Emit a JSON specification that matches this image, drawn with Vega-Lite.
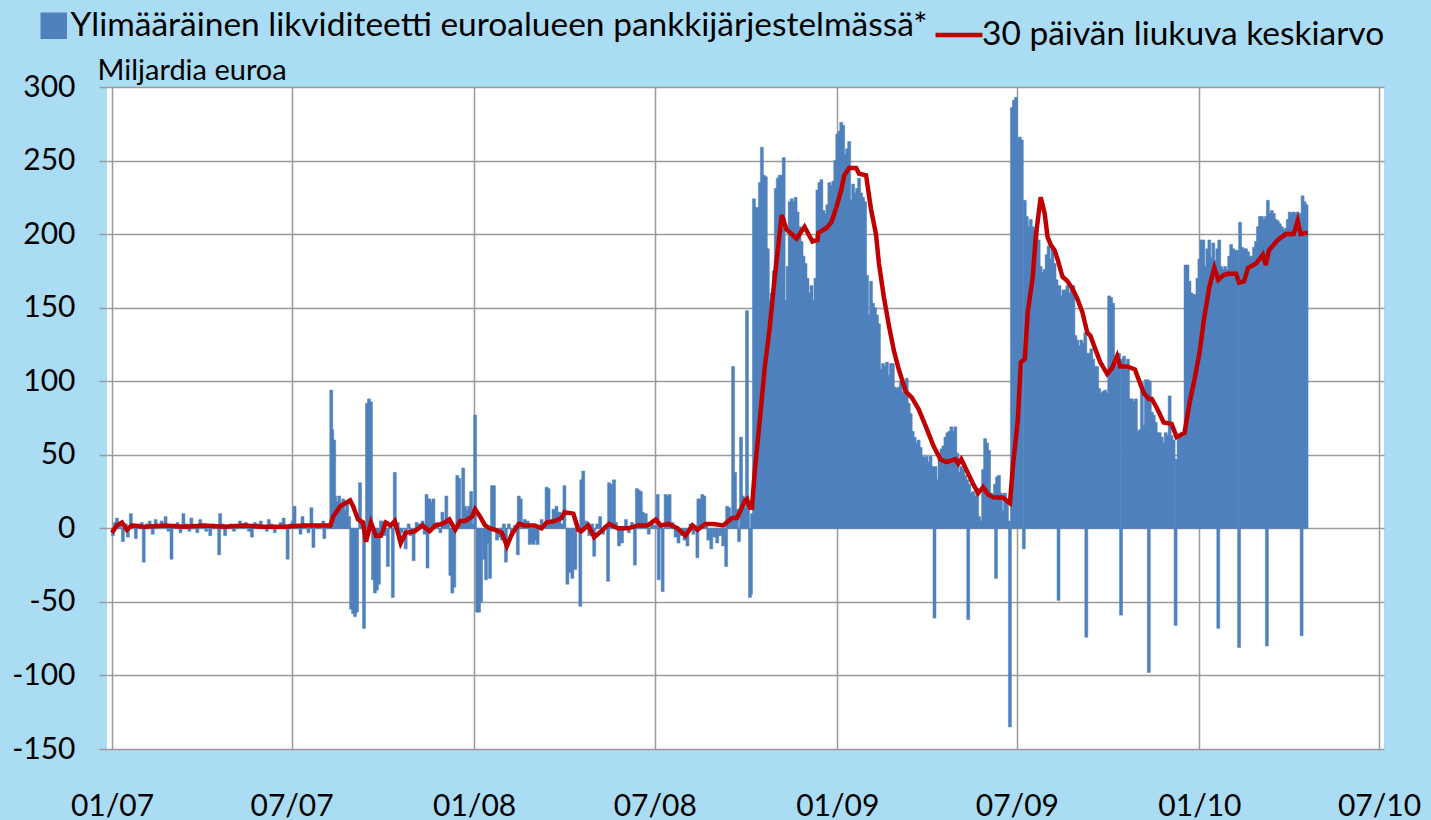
{
"$schema": "https://vega.github.io/schema/vega-lite/v6.json",
"width": 1277, "height": 662,
"autosize": {"type": "none"},
"padding": {"left": 107, "top": 87, "right": 47, "bottom": 71},
"background": "#aadcf4",
"config": {"font": "Lato", "view": {"fill": "#ffffff", "stroke": null}},
"datasets": {
"bars": [
{"d":"2007-01-02","v":-5},{"d":"2007-01-04","v":4},{"d":"2007-01-06","v":7},{"d":"2007-01-09","v":2},{"d":"2007-01-12","v":-9},{"d":"2007-01-15","v":3},{"d":"2007-01-17","v":-6},{"d":"2007-01-20","v":10},{"d":"2007-01-23","v":2},{"d":"2007-01-25","v":-7},{"d":"2007-01-28","v":3},{"d":"2007-01-31","v":4},
{"d":"2007-02-02","v":-23},{"d":"2007-02-05","v":3},{"d":"2007-02-08","v":5},{"d":"2007-02-11","v":-4},{"d":"2007-02-14","v":6},{"d":"2007-02-17","v":2},{"d":"2007-02-20","v":5},{"d":"2007-02-24","v":8},{"d":"2007-02-27","v":-2},
{"d":"2007-03-02","v":-21},{"d":"2007-03-05","v":2},{"d":"2007-03-08","v":4},{"d":"2007-03-11","v":-3},{"d":"2007-03-14","v":10},{"d":"2007-03-17","v":3},{"d":"2007-03-20","v":-2},{"d":"2007-03-22","v":7},{"d":"2007-03-25","v":2},{"d":"2007-03-28","v":-3},{"d":"2007-03-31","v":6},
{"d":"2007-04-03","v":3},{"d":"2007-04-06","v":-2},{"d":"2007-04-10","v":-5},{"d":"2007-04-13","v":3},{"d":"2007-04-16","v":2},{"d":"2007-04-19","v":-18},{"d":"2007-04-20","v":10},{"d":"2007-04-23","v":3},{"d":"2007-04-25","v":-5},{"d":"2007-04-28","v":2},
{"d":"2007-05-01","v":3},{"d":"2007-05-04","v":-2},{"d":"2007-05-07","v":2},{"d":"2007-05-10","v":5},{"d":"2007-05-13","v":3},{"d":"2007-05-16","v":4},{"d":"2007-05-19","v":-2},{"d":"2007-05-22","v":-6},{"d":"2007-05-25","v":4},{"d":"2007-05-28","v":3},{"d":"2007-05-31","v":5},
{"d":"2007-06-03","v":2},{"d":"2007-06-06","v":-2},{"d":"2007-06-08","v":6},{"d":"2007-06-11","v":3},{"d":"2007-06-14","v":-3},{"d":"2007-06-17","v":2},{"d":"2007-06-20","v":4},{"d":"2007-06-23","v":7},{"d":"2007-06-25","v":2},{"d":"2007-06-27","v":-21},{"d":"2007-06-30","v":3},
{"d":"2007-07-02","v":5},{"d":"2007-07-04","v":15},{"d":"2007-07-07","v":2},{"d":"2007-07-10","v":-4},{"d":"2007-07-12","v":8},{"d":"2007-07-15","v":3},{"d":"2007-07-18","v":-3},{"d":"2007-07-21","v":14},{"d":"2007-07-23","v":-13},{"d":"2007-07-26","v":3},{"d":"2007-07-29","v":2},
{"d":"2007-08-02","v":5},{"d":"2007-08-03","v":-7},{"d":"2007-08-06","v":2},{"d":"2007-08-08","v":3},{"d":"2007-08-10","v":94},{"d":"2007-08-11","v":67},{"d":"2007-08-13","v":60},{"d":"2007-08-14","v":22},{"d":"2007-08-16","v":18},{"d":"2007-08-18","v":22},{"d":"2007-08-20","v":15},{"d":"2007-08-22","v":20},{"d":"2007-08-24","v":12},{"d":"2007-08-26","v":18},{"d":"2007-08-28","v":8},{"d":"2007-08-30","v":-55},
{"d":"2007-09-01","v":-58},{"d":"2007-09-03","v":-60},{"d":"2007-09-05","v":-57},{"d":"2007-09-08","v":31},{"d":"2007-09-10","v":4},{"d":"2007-09-12","v":-68},{"d":"2007-09-15","v":85},{"d":"2007-09-17","v":88},{"d":"2007-09-19","v":86},{"d":"2007-09-21","v":-35},{"d":"2007-09-23","v":-44},{"d":"2007-09-25","v":-42},{"d":"2007-09-27","v":-38},{"d":"2007-09-29","v":5},
{"d":"2007-10-01","v":5},{"d":"2007-10-03","v":-5},{"d":"2007-10-06","v":-26},{"d":"2007-10-08","v":3},{"d":"2007-10-11","v":-47},{"d":"2007-10-13","v":38},{"d":"2007-10-16","v":4},{"d":"2007-10-18","v":-8},{"d":"2007-10-20","v":-3},{"d":"2007-10-24","v":-14},{"d":"2007-10-27","v":3},{"d":"2007-10-29","v":-5},
{"d":"2007-11-01","v":-22},{"d":"2007-11-04","v":4},{"d":"2007-11-07","v":3},{"d":"2007-11-10","v":5},{"d":"2007-11-12","v":-4},{"d":"2007-11-14","v":23},{"d":"2007-11-15","v":-27},{"d":"2007-11-17","v":20},{"d":"2007-11-19","v":18},{"d":"2007-11-21","v":20},{"d":"2007-11-25","v":4},{"d":"2007-11-28","v":-3},{"d":"2007-11-30","v":11},
{"d":"2007-12-02","v":3},{"d":"2007-12-04","v":22},{"d":"2007-12-06","v":5},{"d":"2007-12-08","v":-32},{"d":"2007-12-10","v":-44},{"d":"2007-12-12","v":-40},{"d":"2007-12-15","v":36},{"d":"2007-12-17","v":34},{"d":"2007-12-19","v":5},{"d":"2007-12-21","v":41},{"d":"2007-12-23","v":15},{"d":"2007-12-25","v":12},{"d":"2007-12-27","v":15},{"d":"2007-12-29","v":25},{"d":"2007-12-31","v":3},
{"d":"2008-01-02","v":77},{"d":"2008-01-04","v":-57},{"d":"2008-01-06","v":-57},{"d":"2008-01-08","v":-50},{"d":"2008-01-11","v":-21},{"d":"2008-01-13","v":-35},{"d":"2008-01-15","v":-10},{"d":"2008-01-17","v":-34},{"d":"2008-01-19","v":29},{"d":"2008-01-21","v":29},{"d":"2008-01-24","v":-8},{"d":"2008-01-27","v":-6},{"d":"2008-01-29","v":-8},{"d":"2008-01-31","v":3},
{"d":"2008-02-02","v":-23},{"d":"2008-02-05","v":3},{"d":"2008-02-08","v":-5},{"d":"2008-02-11","v":2},{"d":"2008-02-14","v":-18},{"d":"2008-02-15","v":22},{"d":"2008-02-17","v":20},{"d":"2008-02-19","v":4},{"d":"2008-02-21","v":6},{"d":"2008-02-24","v":5},{"d":"2008-02-26","v":-11},{"d":"2008-02-28","v":-10},
{"d":"2008-03-01","v":-11},{"d":"2008-03-03","v":-8},{"d":"2008-03-05","v":-11},{"d":"2008-03-07","v":2},{"d":"2008-03-09","v":6},{"d":"2008-03-11","v":2},{"d":"2008-03-14","v":28},{"d":"2008-03-16","v":27},{"d":"2008-03-18","v":4},{"d":"2008-03-21","v":13},{"d":"2008-03-24","v":15},{"d":"2008-03-27","v":11},{"d":"2008-03-29","v":3},
{"d":"2008-04-01","v":29},{"d":"2008-04-04","v":-38},{"d":"2008-04-06","v":-30},{"d":"2008-04-09","v":-34},{"d":"2008-04-12","v":-28},{"d":"2008-04-14","v":3},{"d":"2008-04-17","v":-53},{"d":"2008-04-18","v":33},{"d":"2008-04-20","v":39},{"d":"2008-04-23","v":5},{"d":"2008-04-26","v":-5},{"d":"2008-04-29","v":3},
{"d":"2008-05-01","v":-19},{"d":"2008-05-04","v":3},{"d":"2008-05-07","v":8},{"d":"2008-05-10","v":-4},{"d":"2008-05-12","v":2},{"d":"2008-05-15","v":-36},{"d":"2008-05-16","v":31},{"d":"2008-05-18","v":30},{"d":"2008-05-21","v":33},{"d":"2008-05-23","v":4},{"d":"2008-05-26","v":-12},{"d":"2008-05-29","v":-10},
{"d":"2008-06-02","v":6},{"d":"2008-06-05","v":-3},{"d":"2008-06-08","v":4},{"d":"2008-06-11","v":-25},{"d":"2008-06-13","v":27},{"d":"2008-06-15","v":26},{"d":"2008-06-17","v":25},{"d":"2008-06-19","v":11},{"d":"2008-06-22","v":10},{"d":"2008-06-25","v":-4},{"d":"2008-06-28","v":3},
{"d":"2008-07-01","v":2},{"d":"2008-07-04","v":23},{"d":"2008-07-05","v":-35},{"d":"2008-07-07","v":3},{"d":"2008-07-09","v":-43},{"d":"2008-07-12","v":23},{"d":"2008-07-14","v":22},{"d":"2008-07-16","v":23},{"d":"2008-07-19","v":4},{"d":"2008-07-22","v":-6},{"d":"2008-07-25","v":-10},{"d":"2008-07-28","v":-5},{"d":"2008-07-31","v":-8},
{"d":"2008-08-03","v":-12},{"d":"2008-08-06","v":3},{"d":"2008-08-09","v":-4},{"d":"2008-08-11","v":2},{"d":"2008-08-13","v":-20},{"d":"2008-08-14","v":20},{"d":"2008-08-16","v":20},{"d":"2008-08-18","v":23},{"d":"2008-08-20","v":22},{"d":"2008-08-22","v":3},{"d":"2008-08-24","v":-8},{"d":"2008-08-27","v":-14},{"d":"2008-08-30","v":-6},
{"d":"2008-09-02","v":-10},{"d":"2008-09-05","v":-5},{"d":"2008-09-08","v":-12},{"d":"2008-09-11","v":-26},{"d":"2008-09-12","v":15},{"d":"2008-09-14","v":14},{"d":"2008-09-16","v":5},{"d":"2008-09-18","v":110},{"d":"2008-09-20","v":38},{"d":"2008-09-22","v":13},{"d":"2008-09-24","v":-9},{"d":"2008-09-26","v":62},{"d":"2008-09-28","v":22},{"d":"2008-09-30","v":14},
{"d":"2008-10-02","v":148},{"d":"2008-10-03","v":15},{"d":"2008-10-05","v":-47},{"d":"2008-10-06","v":-45},{"d":"2008-10-07","v":10},
{"d":"2008-10-09","v":224},{"d":"2008-10-11","v":218},{"d":"2008-10-13","v":218},{"d":"2008-10-15","v":235},{"d":"2008-10-17","v":259},{"d":"2008-10-19","v":240},{"d":"2008-10-21","v":239},{"d":"2008-10-23","v":190},{"d":"2008-10-25","v":155},{"d":"2008-10-27","v":160},{"d":"2008-10-29","v":175},{"d":"2008-10-31","v":231},
{"d":"2008-11-02","v":238},{"d":"2008-11-04","v":240},{"d":"2008-11-06","v":240},{"d":"2008-11-08","v":252},{"d":"2008-11-10","v":155},{"d":"2008-11-12","v":178},{"d":"2008-11-14","v":222},{"d":"2008-11-16","v":224},{"d":"2008-11-18","v":222},{"d":"2008-11-20","v":225},{"d":"2008-11-22","v":215},{"d":"2008-11-24","v":205},{"d":"2008-11-26","v":195},{"d":"2008-11-28","v":185},{"d":"2008-11-30","v":180},
{"d":"2008-12-02","v":170},{"d":"2008-12-04","v":160},{"d":"2008-12-06","v":165},{"d":"2008-12-08","v":155},{"d":"2008-12-10","v":170},{"d":"2008-12-12","v":230},{"d":"2008-12-14","v":235},{"d":"2008-12-16","v":237},{"d":"2008-12-18","v":216},{"d":"2008-12-20","v":214},{"d":"2008-12-22","v":220},{"d":"2008-12-24","v":235},{"d":"2008-12-26","v":233},{"d":"2008-12-28","v":236},{"d":"2008-12-30","v":250},
{"d":"2009-01-01","v":268},{"d":"2009-01-03","v":270},{"d":"2009-01-05","v":276},{"d":"2009-01-07","v":274},{"d":"2009-01-09","v":254},{"d":"2009-01-11","v":258},{"d":"2009-01-13","v":263},{"d":"2009-01-15","v":223},{"d":"2009-01-17","v":234},{"d":"2009-01-19","v":228},{"d":"2009-01-21","v":231},{"d":"2009-01-23","v":238},{"d":"2009-01-25","v":228},{"d":"2009-01-27","v":225},{"d":"2009-01-29","v":222},{"d":"2009-01-31","v":172},
{"d":"2009-02-02","v":145},{"d":"2009-02-04","v":168},{"d":"2009-02-06","v":153},{"d":"2009-02-08","v":150},{"d":"2009-02-10","v":145},{"d":"2009-02-12","v":139},{"d":"2009-02-14","v":108},{"d":"2009-02-16","v":112},{"d":"2009-02-18","v":110},{"d":"2009-02-20","v":113},{"d":"2009-02-22","v":104},{"d":"2009-02-24","v":112},{"d":"2009-02-26","v":112},{"d":"2009-02-28","v":96},
{"d":"2009-03-02","v":95},{"d":"2009-03-04","v":96},{"d":"2009-03-06","v":100},{"d":"2009-03-08","v":92},{"d":"2009-03-10","v":98},{"d":"2009-03-12","v":102},{"d":"2009-03-14","v":85},{"d":"2009-03-16","v":78},{"d":"2009-03-18","v":66},{"d":"2009-03-20","v":62},{"d":"2009-03-22","v":58},{"d":"2009-03-24","v":60},{"d":"2009-03-26","v":55},{"d":"2009-03-28","v":49},{"d":"2009-03-30","v":48},
{"d":"2009-04-01","v":49},{"d":"2009-04-03","v":45},{"d":"2009-04-05","v":49},{"d":"2009-04-07","v":42},{"d":"2009-04-09","v":-61},{"d":"2009-04-10","v":42},{"d":"2009-04-12","v":33},{"d":"2009-04-14","v":51},{"d":"2009-04-16","v":54},{"d":"2009-04-18","v":56},{"d":"2009-04-20","v":62},{"d":"2009-04-22","v":65},{"d":"2009-04-24","v":66},{"d":"2009-04-26","v":69},{"d":"2009-04-28","v":66},{"d":"2009-04-30","v":69},
{"d":"2009-05-02","v":51},{"d":"2009-05-04","v":38},{"d":"2009-05-06","v":42},{"d":"2009-05-08","v":40},{"d":"2009-05-10","v":36},{"d":"2009-05-12","v":33},{"d":"2009-05-13","v":-62},{"d":"2009-05-14","v":30},{"d":"2009-05-16","v":24},{"d":"2009-05-18","v":25},{"d":"2009-05-20","v":22},{"d":"2009-05-22","v":27},{"d":"2009-05-24","v":8},{"d":"2009-05-26","v":5},{"d":"2009-05-28","v":40},{"d":"2009-05-30","v":61},
{"d":"2009-06-01","v":58},{"d":"2009-06-03","v":53},{"d":"2009-06-05","v":24},{"d":"2009-06-07","v":22},{"d":"2009-06-09","v":30},{"d":"2009-06-10","v":-34},{"d":"2009-06-11","v":35},{"d":"2009-06-13","v":36},{"d":"2009-06-15","v":24},{"d":"2009-06-17","v":12},{"d":"2009-06-19","v":24},{"d":"2009-06-21","v":20},{"d":"2009-06-23","v":5},{"d":"2009-06-24","v":-135},{"d":"2009-06-26","v":286},{"d":"2009-06-28","v":291},{"d":"2009-06-30","v":293},
{"d":"2009-07-02","v":265},{"d":"2009-07-04","v":266},{"d":"2009-07-06","v":264},{"d":"2009-07-08","v":-14},{"d":"2009-07-09","v":223},{"d":"2009-07-11","v":212},{"d":"2009-07-13","v":205},{"d":"2009-07-15","v":210},{"d":"2009-07-17","v":205},{"d":"2009-07-19","v":203},{"d":"2009-07-21","v":203},{"d":"2009-07-23","v":196},{"d":"2009-07-25","v":178},{"d":"2009-07-27","v":174},{"d":"2009-07-29","v":176},{"d":"2009-07-31","v":186},
{"d":"2009-08-02","v":192},{"d":"2009-08-04","v":183},{"d":"2009-08-06","v":190},{"d":"2009-08-08","v":180},{"d":"2009-08-10","v":169},{"d":"2009-08-12","v":-49},{"d":"2009-08-13","v":165},{"d":"2009-08-15","v":158},{"d":"2009-08-17","v":162},{"d":"2009-08-19","v":162},{"d":"2009-08-21","v":165},{"d":"2009-08-23","v":160},{"d":"2009-08-25","v":165},{"d":"2009-08-27","v":165},{"d":"2009-08-29","v":131},{"d":"2009-08-31","v":128},
{"d":"2009-09-02","v":124},{"d":"2009-09-04","v":128},{"d":"2009-09-06","v":126},{"d":"2009-09-08","v":133},{"d":"2009-09-09","v":-74},{"d":"2009-09-10","v":119},{"d":"2009-09-12","v":119},{"d":"2009-09-14","v":122},{"d":"2009-09-16","v":115},{"d":"2009-09-18","v":110},{"d":"2009-09-20","v":110},{"d":"2009-09-22","v":95},{"d":"2009-09-24","v":92},{"d":"2009-09-26","v":93},{"d":"2009-09-28","v":94},{"d":"2009-09-30","v":92},
{"d":"2009-10-02","v":158},{"d":"2009-10-04","v":157},{"d":"2009-10-06","v":153},{"d":"2009-10-08","v":112},{"d":"2009-10-10","v":110},{"d":"2009-10-12","v":119},{"d":"2009-10-14","v":-59},{"d":"2009-10-15","v":115},{"d":"2009-10-17","v":117},{"d":"2009-10-19","v":108},{"d":"2009-10-21","v":115},{"d":"2009-10-23","v":88},{"d":"2009-10-25","v":88},{"d":"2009-10-27","v":86},{"d":"2009-10-29","v":88},{"d":"2009-10-31","v":66},
{"d":"2009-11-02","v":67},{"d":"2009-11-04","v":99},{"d":"2009-11-06","v":70},{"d":"2009-11-08","v":101},{"d":"2009-11-10","v":101},{"d":"2009-11-11","v":-98},{"d":"2009-11-12","v":100},{"d":"2009-11-14","v":79},{"d":"2009-11-16","v":77},{"d":"2009-11-18","v":72},{"d":"2009-11-20","v":65},{"d":"2009-11-22","v":65},{"d":"2009-11-24","v":62},{"d":"2009-11-26","v":58},{"d":"2009-11-28","v":65},{"d":"2009-11-30","v":63},
{"d":"2009-12-02","v":90},{"d":"2009-12-04","v":63},{"d":"2009-12-06","v":60},{"d":"2009-12-08","v":-66},{"d":"2009-12-09","v":47},{"d":"2009-12-11","v":62},{"d":"2009-12-13","v":63},{"d":"2009-12-15","v":62},{"d":"2009-12-17","v":65},{"d":"2009-12-18","v":179},{"d":"2009-12-20","v":179},{"d":"2009-12-22","v":168},{"d":"2009-12-24","v":160},{"d":"2009-12-26","v":159},{"d":"2009-12-28","v":159},{"d":"2009-12-30","v":170},
{"d":"2010-01-01","v":183},{"d":"2010-01-03","v":196},{"d":"2010-01-05","v":196},{"d":"2010-01-07","v":178},{"d":"2010-01-09","v":190},{"d":"2010-01-11","v":196},{"d":"2010-01-13","v":184},{"d":"2010-01-15","v":194},{"d":"2010-01-17","v":182},{"d":"2010-01-19","v":190},{"d":"2010-01-20","v":-68},{"d":"2010-01-21","v":196},{"d":"2010-01-23","v":178},{"d":"2010-01-25","v":176},{"d":"2010-01-27","v":178},{"d":"2010-01-29","v":176},{"d":"2010-01-31","v":185},
{"d":"2010-02-02","v":193},{"d":"2010-02-04","v":190},{"d":"2010-02-06","v":189},{"d":"2010-02-08","v":189},{"d":"2010-02-10","v":-81},{"d":"2010-02-11","v":208},{"d":"2010-02-13","v":191},{"d":"2010-02-15","v":190},{"d":"2010-02-17","v":190},{"d":"2010-02-19","v":188},{"d":"2010-02-21","v":185},{"d":"2010-02-23","v":185},{"d":"2010-02-25","v":191},{"d":"2010-02-27","v":195},
{"d":"2010-03-01","v":205},{"d":"2010-03-03","v":212},{"d":"2010-03-05","v":212},{"d":"2010-03-07","v":210},{"d":"2010-03-09","v":212},{"d":"2010-03-10","v":-80},{"d":"2010-03-11","v":223},{"d":"2010-03-13","v":214},{"d":"2010-03-15","v":216},{"d":"2010-03-17","v":214},{"d":"2010-03-19","v":210},{"d":"2010-03-21","v":209},{"d":"2010-03-23","v":207},{"d":"2010-03-25","v":205},{"d":"2010-03-27","v":203},{"d":"2010-03-29","v":204},{"d":"2010-03-31","v":210},
{"d":"2010-04-02","v":215},{"d":"2010-04-04","v":214},{"d":"2010-04-06","v":215},{"d":"2010-04-08","v":214},{"d":"2010-04-10","v":215},{"d":"2010-04-12","v":214},{"d":"2010-04-14","v":-73},{"d":"2010-04-15","v":226},{"d":"2010-04-17","v":222},{"d":"2010-04-19","v":220}
],
"ma": [
{"d":"2007-01-01","v":-3},{"d":"2007-01-04","v":0},{"d":"2007-01-06","v":2},{"d":"2007-01-11","v":4},{"d":"2007-01-16","v":-1},{"d":"2007-01-21","v":2},{"d":"2007-02-03","v":1},{"d":"2007-02-23","v":2},{"d":"2007-03-15","v":1},{"d":"2007-04-04","v":2},{"d":"2007-04-24","v":1},{"d":"2007-05-14","v":2},{"d":"2007-06-03","v":1},{"d":"2007-06-23","v":1},{"d":"2007-07-13","v":2},{"d":"2007-08-02","v":2},{"d":"2007-08-09","v":2},
{"d":"2007-08-12","v":8},{"d":"2007-08-19","v":15},{"d":"2007-08-29","v":19},{"d":"2007-09-01","v":15},{"d":"2007-09-06","v":6},{"d":"2007-09-11","v":4},{"d":"2007-09-14","v":-9},{"d":"2007-09-19","v":4},{"d":"2007-09-24","v":-5},{"d":"2007-09-29","v":-5},{"d":"2007-10-04","v":4},{"d":"2007-10-09","v":2},{"d":"2007-10-13","v":5},{"d":"2007-10-19","v":-10},{"d":"2007-10-24","v":-3},{"d":"2007-11-02","v":-2},{"d":"2007-11-10","v":2},{"d":"2007-11-17","v":-2},{"d":"2007-11-23","v":2},{"d":"2007-11-30","v":3},{"d":"2007-12-07","v":6},{"d":"2007-12-13","v":-1},{"d":"2007-12-18","v":5},{"d":"2007-12-23","v":5},{"d":"2007-12-30","v":8},
{"d":"2008-01-02","v":13},{"d":"2008-01-07","v":8},{"d":"2008-01-12","v":2},{"d":"2008-01-17","v":0},{"d":"2008-01-22","v":-1},{"d":"2008-01-29","v":-3},{"d":"2008-02-03","v":-12},{"d":"2008-02-08","v":-4},{"d":"2008-02-15","v":3},{"d":"2008-02-21","v":2},{"d":"2008-03-02","v":2},{"d":"2008-03-09","v":0},{"d":"2008-03-14","v":4},{"d":"2008-03-22","v":5},{"d":"2008-03-29","v":7},{"d":"2008-04-01","v":11},{"d":"2008-04-10","v":10},{"d":"2008-04-15","v":-1},{"d":"2008-04-18","v":-2},{"d":"2008-04-25","v":2},{"d":"2008-05-01","v":-6},{"d":"2008-05-08","v":-2},{"d":"2008-05-16","v":3},{"d":"2008-05-25","v":0},{"d":"2008-06-04","v":0},{"d":"2008-06-14","v":2},{"d":"2008-06-24","v":2},{"d":"2008-07-02","v":6},{"d":"2008-07-07","v":2},{"d":"2008-07-15","v":3},{"d":"2008-07-24","v":0},{"d":"2008-08-01","v":-5},{"d":"2008-08-08","v":2},{"d":"2008-08-13","v":-1},{"d":"2008-08-21","v":3},{"d":"2008-08-29","v":3},{"d":"2008-09-08","v":2},{"d":"2008-09-17","v":7},{"d":"2008-09-22","v":7},{"d":"2008-09-30","v":19},{"d":"2008-10-02","v":20},{"d":"2008-10-05","v":14},{"d":"2008-10-07","v":14},
{"d":"2008-10-10","v":40},{"d":"2008-10-15","v":74},{"d":"2008-10-20","v":110},{"d":"2008-10-25","v":137},{"d":"2008-10-30","v":171},{"d":"2008-11-06","v":213},{"d":"2008-11-11","v":203},{"d":"2008-11-21","v":197},{"d":"2008-11-29","v":205},{"d":"2008-12-07","v":195},{"d":"2008-12-12","v":196},{"d":"2008-12-13","v":201},{"d":"2008-12-21","v":204},{"d":"2008-12-26","v":208},{"d":"2008-12-31","v":218},
{"d":"2009-01-05","v":230},{"d":"2009-01-08","v":240},{"d":"2009-01-13","v":245},{"d":"2009-01-20","v":245},{"d":"2009-01-23","v":241},{"d":"2009-01-30","v":240},{"d":"2009-02-04","v":217},{"d":"2009-02-09","v":200},{"d":"2009-02-12","v":180},{"d":"2009-02-17","v":157},{"d":"2009-02-22","v":138},{"d":"2009-02-27","v":121},{"d":"2009-03-04","v":108},{"d":"2009-03-11","v":93},{"d":"2009-03-17","v":89},{"d":"2009-03-24","v":81},{"d":"2009-04-01","v":68},{"d":"2009-04-08","v":56},{"d":"2009-04-15","v":47},{"d":"2009-04-21","v":45},{"d":"2009-04-30","v":47},{"d":"2009-05-03","v":44},{"d":"2009-05-06","v":47},{"d":"2009-05-11","v":40},{"d":"2009-05-18","v":30},{"d":"2009-05-23","v":24},{"d":"2009-05-28","v":28},{"d":"2009-06-02","v":23},{"d":"2009-06-08","v":21},{"d":"2009-06-17","v":21},{"d":"2009-06-22","v":18},{"d":"2009-06-24","v":17},
{"d":"2009-06-27","v":42},{"d":"2009-07-02","v":74},{"d":"2009-07-05","v":113},{"d":"2009-07-09","v":115},{"d":"2009-07-12","v":147},{"d":"2009-07-17","v":171},{"d":"2009-07-20","v":198},{"d":"2009-07-25","v":225},{"d":"2009-07-29","v":214},{"d":"2009-08-01","v":198},{"d":"2009-08-04","v":193},{"d":"2009-08-08","v":189},{"d":"2009-08-11","v":183},{"d":"2009-08-16","v":171},{"d":"2009-08-21","v":168},{"d":"2009-08-26","v":163},{"d":"2009-08-31","v":156},{"d":"2009-09-05","v":147},{"d":"2009-09-10","v":133},{"d":"2009-09-13","v":131},{"d":"2009-09-18","v":122},{"d":"2009-09-23","v":113},{"d":"2009-09-30","v":105},{"d":"2009-10-05","v":109},{"d":"2009-10-10","v":117},{"d":"2009-10-13","v":110},{"d":"2009-10-20","v":110},{"d":"2009-10-28","v":108},{"d":"2009-11-02","v":99},{"d":"2009-11-06","v":92},{"d":"2009-11-11","v":88},{"d":"2009-11-14","v":88},{"d":"2009-11-19","v":82},{"d":"2009-11-26","v":72},{"d":"2009-12-04","v":71},{"d":"2009-12-09","v":62},{"d":"2009-12-17","v":65},{"d":"2009-12-22","v":85},{"d":"2009-12-27","v":101},
{"d":"2010-01-01","v":119},{"d":"2010-01-06","v":144},{"d":"2010-01-11","v":164},{"d":"2010-01-16","v":177},{"d":"2010-01-20","v":169},{"d":"2010-01-25","v":172},{"d":"2010-01-30","v":173},{"d":"2010-02-07","v":173},{"d":"2010-02-10","v":167},{"d":"2010-02-15","v":168},{"d":"2010-02-19","v":177},{"d":"2010-02-27","v":180},{"d":"2010-03-06","v":186},{"d":"2010-03-09","v":179},{"d":"2010-03-12","v":189},{"d":"2010-03-21","v":196},{"d":"2010-03-29","v":200},{"d":"2010-04-06","v":200},{"d":"2010-04-10","v":209},{"d":"2010-04-13","v":200},{"d":"2010-04-20","v":201}
]
},
"layer": [
{
"data": {"name": "bars"},
"mark": {"type": "bar", "width": 3, "stroke": "#4f81bd", "strokeWidth": 0.5},
"encoding": {
"x": {"field": "d", "type": "temporal",
 "scale": {"type": "utc", "domain": [{"year": 2007, "month": 1, "date": 1, "utc": true}, {"year": 2010, "month": 7, "date": 1, "utc": true}]},
 "axis": {"title": null, "labelExpr": "utcFormat(datum.value, '%m/%y')",
  "values": [{"year":2007,"month":1,"date":1,"utc":true},{"year":2007,"month":7,"date":1,"utc":true},{"year":2008,"month":1,"date":1,"utc":true},{"year":2008,"month":7,"date":1,"utc":true},{"year":2009,"month":1,"date":1,"utc":true},{"year":2009,"month":7,"date":1,"utc":true},{"year":2010,"month":1,"date":1,"utc":true},{"year":2010,"month":7,"date":1,"utc":true}],
  "grid": true, "gridColor": "#9a9a9a", "gridWidth": 1.5, "domain": false, "ticks": false, "tickSize": 0,
  "labelFontSize": 30, "labelColor": "#000000", "labelPadding": 42, "labelFlush": false, "labelOverlap": false}},
"y": {"field": "v", "type": "quantitative",
 "scale": {"domain": [-150, 300], "nice": false, "zero": false},
 "axis": {"title": "Miljardia euroa", "titleAngle": 0, "titleX": -10, "titleY": -8, "titleAlign": "left", "titleBaseline": "alphabetic", "titleFontSize": 29, "titleFontWeight": "normal", "titleColor": "#000000",
  "values": [-150, -100, -50, 0, 50, 100, 150, 200, 250, 300], "labelExpr": "'' + datum.value",
  "grid": true, "gridColor": "#9a9a9a", "gridWidth": 1.5, "domain": false, "ticks": true, "tickSize": 8, "tickColor": "#9a9a9a", "tickWidth": 1.5,
  "labelFontSize": 30, "labelColor": "#000000", "labelPadding": 24}},
"fill": {"datum": "Ylimääräinen likviditeetti euroalueen pankkijärjestelmässä*", "type": "nominal",
 "scale": {"range": ["#4f81bd"]},
 "legend": {"orient": "none", "legendX": -70, "legendY": -78, "title": null, "symbolType": "square", "symbolSize": 700, "symbolStrokeWidth": 0, "labelFontSize": 33.5, "labelLimit": 1000, "labelOffset": 0, "padding": 0, "labelColor": "#000000"}}
}
},
{
"data": {"name": "ma"},
"mark": {"type": "line", "strokeWidth": 4.5},
"encoding": {
"x": {"field": "d", "type": "temporal"},
"y": {"field": "v", "type": "quantitative"},
"stroke": {"datum": "30 päivän liukuva keskiarvo", "type": "nominal",
 "scale": {"range": ["#c00000"]},
 "legend": {"orient": "none", "legendX": 826, "legendY": -78, "title": null, "symbolType": "stroke", "symbolSize": 2200, "symbolStrokeWidth": 4.5, "labelFontSize": 33.5, "labelLimit": 1000, "labelOffset": -3, "padding": 0, "labelColor": "#000000"}}
}
}
]
}
